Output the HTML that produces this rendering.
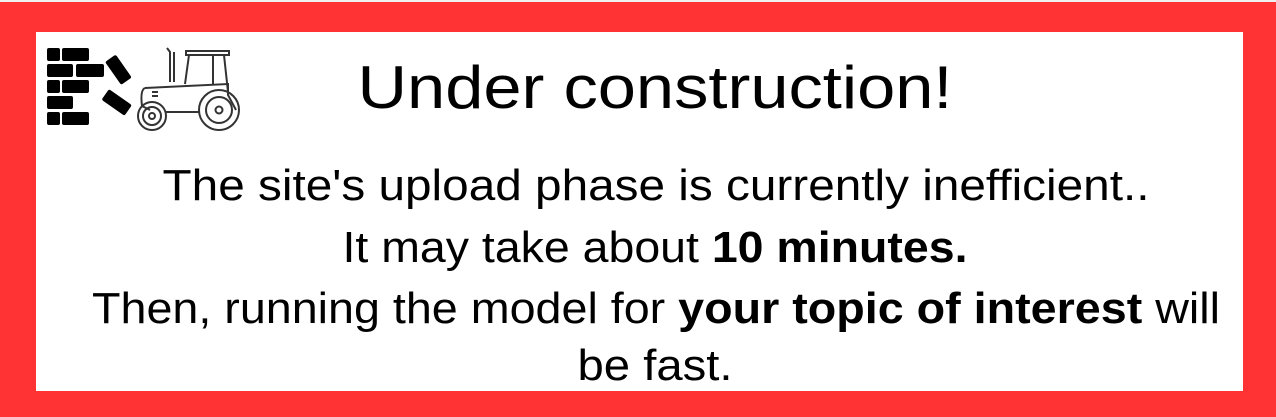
<!DOCTYPE html>
<html><head><meta charset="utf-8"><style>
html,body{margin:0;padding:0;background:#eee;}
svg{display:block}
</style></head><body>
<svg width="1276" height="417" viewBox="0 0 1276 417" font-family="'Liberation Sans', sans-serif">
<rect x="0" y="0" width="1276" height="417" fill="#f0f0f0"/>
<rect x="0" y="2" width="1276" height="415" fill="#ff3333"/>
<rect x="36" y="32" width="1207" height="359" fill="#ffffff"/>
<g fill="#000">
<rect x="47" y="48" width="13" height="13" rx="2"/><rect x="62" y="48" width="27" height="13" rx="2"/>
<rect x="47" y="64" width="26" height="13" rx="2"/><rect x="76" y="64" width="28" height="13" rx="2"/>
<rect x="47" y="80" width="13" height="13" rx="2"/><rect x="62" y="80" width="27" height="13" rx="2"/>
<rect x="47" y="96" width="26" height="13" rx="2"/>
<rect x="47" y="112" width="13" height="13" rx="2"/><rect x="62" y="112" width="27" height="13" rx="2"/>
<rect x="112" y="56" width="13" height="28" rx="2" transform="rotate(-35 118 70)"/>
<rect x="103" y="96" width="28" height="13" rx="2" transform="rotate(35 117 102)"/>
</g>
<g fill="none" stroke="#333" stroke-width="2">
<path d="M167 48 L170 52 L170 82"/><path d="M174 82 L174 52"/>
<path d="M186 51 L229 51 L229 55 L186 55 Z"/>
<path d="M189 55 L185 84 M224 55 L228 92 M213 55 L213 84"/>
<path d="M145 88 L228 84 L228 95 L236 110"/>
<path d="M145 88 Q140 90 142 106 L150 110"/>
<path d="M165 112 L200 112"/>
<line x1="152" y1="92" x2="158" y2="92"/><line x1="152" y1="96" x2="158" y2="96"/>
<circle cx="152" cy="116" r="14"/><circle cx="152" cy="116" r="9"/><circle cx="152" cy="116" r="3"/>
<circle cx="219" cy="110" r="20"/><circle cx="219" cy="110" r="13"/><circle cx="219" cy="110" r="3.5"/>
</g>
<text x="655" y="108" text-anchor="middle" font-size="60" fill="#000" textLength="595" lengthAdjust="spacingAndGlyphs">Under construction!</text>
<g font-size="44" fill="#000" text-anchor="middle">
<text x="656" y="200" textLength="987" lengthAdjust="spacingAndGlyphs">The site's upload phase is currently inefficient..</text>
<text x="655" y="262" textLength="625" lengthAdjust="spacingAndGlyphs">It may take about <tspan font-weight="bold">10 minutes.</tspan></text>
<text x="656" y="323" textLength="1128" lengthAdjust="spacingAndGlyphs">Then, running the model for <tspan font-weight="bold">your topic of interest</tspan> will</text>
<text x="655" y="380" textLength="155" lengthAdjust="spacingAndGlyphs">be fast.</text>
</g>
</svg>
</body></html>
